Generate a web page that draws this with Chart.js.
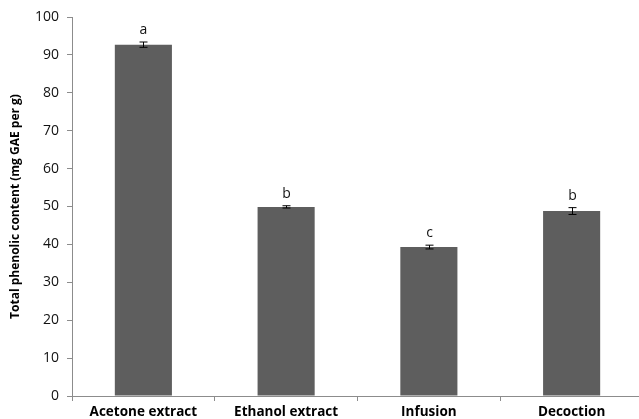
<!DOCTYPE html>
<html>
<head>
<meta charset="utf-8">
<script src="https://cdn.jsdelivr.net/npm/chart.js@4/dist/chart.umd.min.js"></script>
<style>
html,body{margin:0;padding:0;background:#fff;overflow:hidden;width:639px;height:419px;}
#wrap{width:645px;height:419px;position:relative;}
</style>
</head>
<body>
<div id="wrap"><canvas id="c" width="645" height="419"></canvas></div>
<script>
const categories = ["Acetone extract", "Ethanol extract", "Infusion", "Decoction"];
const values = [92.7, 49.9, 39.3, 48.8];
const errors = [0.7, 0.3, 0.5, 0.9];
const letters = ["a", "b", "c", "b"];
const yMin = 0, yMax = 100, yStep = 10;
const yTitle = "Total phenolic content (mg GAE per g)";

const fontFam = "'Open Sans', 'Liberation Sans', sans-serif";

const errPlugin = {
  id: 'errLetters',
  afterDatasetsDraw(chart) {
    const ctx = chart.ctx;
    const meta = chart.getDatasetMeta(0);
    const ys = chart.scales.y;
    ctx.save();
    ctx.strokeStyle = '#000';
    ctx.lineWidth = 1;
    meta.data.forEach((bar, i) => {
      const x = Math.round(bar.x) + 0.5;
      const top = ys.getPixelForValue(values[i] + errors[i]);
      const bot = ys.getPixelForValue(values[i] - errors[i]);
      const cap = 4;
      ctx.beginPath();
      ctx.moveTo(x, top); ctx.lineTo(x, bot);
      ctx.moveTo(x - cap, top); ctx.lineTo(x + cap, top);
      ctx.moveTo(x - cap, bot); ctx.lineTo(x + cap, bot);
      ctx.stroke();
      ctx.fillStyle = '#111';
      ctx.font = "14px " + fontFam;
      ctx.textAlign = 'center';
      ctx.textBaseline = 'bottom';
      ctx.fillText(letters[i], x, top - 5);
    });
    ctx.restore();
  }
};

new Chart(document.getElementById('c'), {
  type: 'bar',
  data: {
    labels: categories,
    datasets: [{
      data: values,
      backgroundColor: '#5e5e5e',
      borderWidth: 0,
      categoryPercentage: 1.0,
      barPercentage: 0.4
    }]
  },
  options: {
    responsive: false,
    animation: false,
    layout: { padding: { top: 17, right: 2, left: 0, bottom: 0 } },
    plugins: { legend: { display: false }, tooltip: { enabled: false } },
    scales: {
      x: {
        grid: { display: true, offset: true, drawOnChartArea: false, drawTicks: true, tickLength: 5, color: '#8c8c8c' },
        border: { display: true, color: '#8c8c8c', width: 1 },
        ticks: { color: '#000', font: { family: fontFam, size: 13.5, weight: 'bold' }, padding: 3, maxRotation: 0, autoSkip: false },
        afterFit(s) { s.height = 23; }
      },
      y: {
        min: yMin, max: yMax,
        grid: { display: true, drawOnChartArea: false, drawTicks: true, tickLength: 5, color: '#8c8c8c' },
        border: { display: true, color: '#8c8c8c', width: 1 },
        ticks: { stepSize: yStep, color: '#111', font: { family: fontFam, size: 14 }, padding: 8 },
        title: { display: true, text: yTitle, color: '#000', font: { family: fontFam, size: 12, weight: 'bold' }, padding: { top: 8, bottom: 0 } },
        afterFit(s) { s.width = 72; }
      }
    }
  },
  plugins: [errPlugin]
});
</script>
</body>
</html>
